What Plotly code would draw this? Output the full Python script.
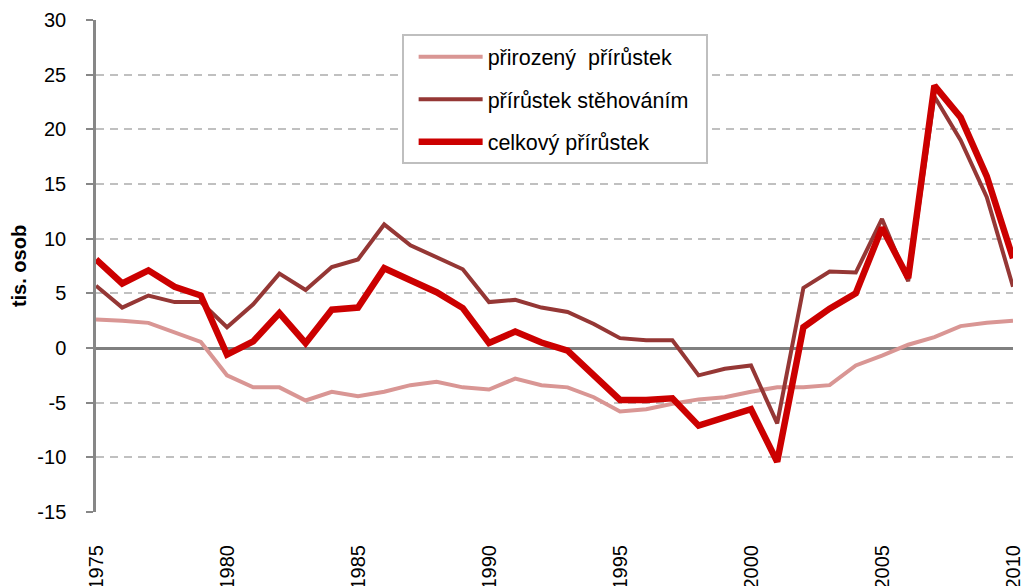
import plotly.graph_objects as go

years = list(range(1975, 2011))

prirozeny = [2.6, 2.5, 2.3, 1.4, 0.55, -2.5, -3.6, -3.6, -4.8, -4.0, -4.4, -4.0,
             -3.4, -3.1, -3.6, -3.8, -2.8, -3.4, -3.6, -4.5, -5.8, -5.6, -5.1, -4.7,
             -4.5, -4.0, -3.6, -3.6, -3.4, -1.6, -0.7, 0.3, 1.0, 2.0, 2.3, 2.5]

stehovani = [5.7, 3.7, 4.8, 4.2, 4.2, 1.9, 4.0, 6.8, 5.3, 7.4, 8.1, 11.3,
             9.4, 8.3, 7.2, 4.2, 4.4, 3.7, 3.3, 2.2, 0.9, 0.7, 0.7, -2.5,
             -1.9, -1.6, -6.9, 5.5, 7.0, 6.9, 11.8, 6.1, 23.0, 19.0, 13.8, 5.6]

celkovy = [8.1, 5.9, 7.1, 5.6, 4.8, -0.6, 0.6, 3.2, 0.45, 3.5, 3.7, 7.3,
           6.2, 5.1, 3.65, 0.45, 1.5, 0.5, -0.25, -2.5, -4.75, -4.75, -4.6, -7.1,
           -6.3, -5.6, -10.4, 1.9, 3.6, 5.0, 11.0, 6.4, 24.0, 21.1, 15.7, 8.2]

series_names = ["přirozený  přírůstek", "přírůstek stěhováním", "celkový přírůstek"]

y_ticks = list(range(-15, 31, 5))
y_ticktext = [str(v) for v in y_ticks]  # hyphen minus as in the original
x_ticks = list(range(1975, 2011, 5))
x_ticktext = [str(v) for v in x_ticks]

font_family = "Liberation Sans, Arial, sans-serif"

fig = go.Figure()
fig.add_trace(go.Scatter(x=years, y=prirozeny, mode="lines", name=series_names[0],
                         line=dict(color="#D99694", width=4), legendgroup="a"))
fig.add_trace(go.Scatter(x=years, y=stehovani, mode="lines",
                         name=series_names[1] + "\u00a0\u00a0",
                         line=dict(color="#953735", width=4), legendgroup="b"))
fig.add_trace(go.Scatter(x=years, y=celkovy, mode="lines", name=series_names[2],
                         line=dict(color="#CC0000", width=6.5), legendgroup="c"))

fig.update_layout(
    width=1023, height=586,
    margin=dict(l=96, r=10, t=20, b=74),
    paper_bgcolor="white", plot_bgcolor="white",
    font=dict(family=font_family, size=20, color="black"),
    showlegend=True,
    legend=dict(x=0.3333, y=0.971, xanchor="left", yanchor="top",
                bordercolor="#BFBFBF", borderwidth=2, bgcolor="white",
                font=dict(size=21.5), tracegroupgap=11.5, itemwidth=64,
                indentation=10, traceorder="grouped"),
    xaxis=dict(range=[1975, 2010], tickmode="array", tickvals=x_ticks,
               ticktext=x_ticktext, tickangle=-90, automargin=False,
               ticklabeloverflow="allow",
               showgrid=False, zeroline=False, showline=False,
               ticks="", ticklabelstandoff=28, tickfont=dict(size=20)),
    yaxis=dict(range=[-15, 30], tickmode="array", tickvals=y_ticks, ticktext=y_ticktext,
               automargin=False,
               showgrid=True, gridcolor="#C0C0C0", griddash="8px,6px", gridwidth=2,
               zeroline=True, zerolinecolor="#808080", zerolinewidth=2.5,
               showline=True, linecolor="#878787", linewidth=2.5,
               ticks="outside", ticklen=7, tickcolor="#878787", tickwidth=2,
               tickfont=dict(size=20), ticklabelstandoff=16,
               title=dict(text="<b>tis. osob</b>", font=dict(size=20), standoff=6)),
)

fig.write_html("out.html", config={"displayModeBar": False},
               post_script="document.body.style.margin='0';")
